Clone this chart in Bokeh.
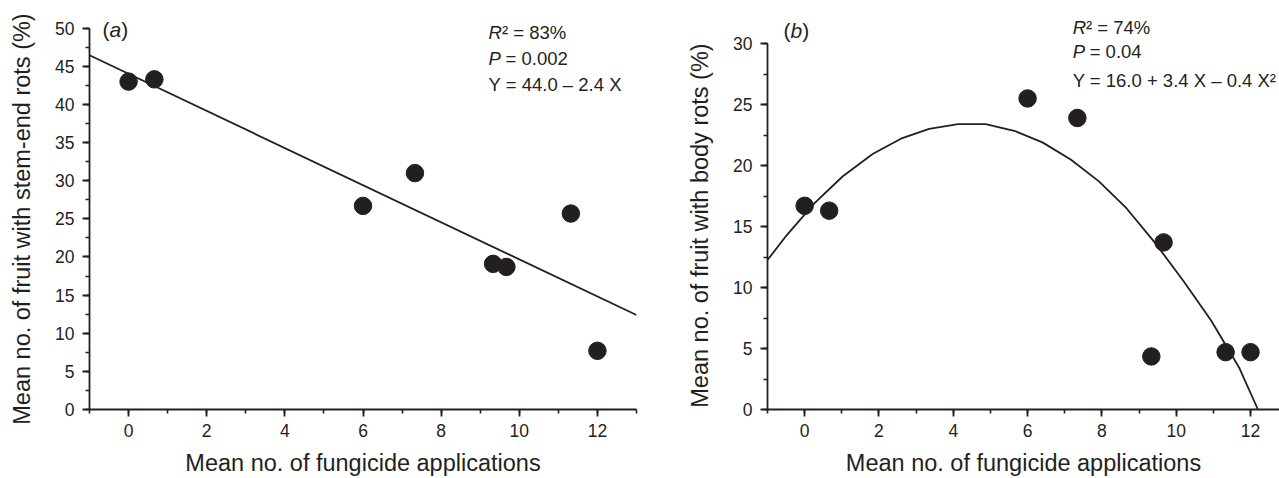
from bokeh.plotting import figure
from bokeh.layouts import row
from bokeh.models import Range1d, SingleIntervalTicker, Label
from bokeh.embed import file_html
from bokeh.resources import INLINE

FONT = "Liberation Sans"
INK = "#231f20"

# ---- panel (a): stem-end rots ----
a_x = [0.0, 0.66, 6.0, 7.33, 9.33, 9.67, 11.32, 12.0]
a_y = [43.0, 43.3, 26.7, 31.0, 19.1, 18.7, 25.7, 7.7]
a_fit_x = [-1.0, 13.0]
a_fit_y = [46.45, 12.4]
a_stats = ["\u00b2 = 83%", "= 0.002", "Y = 44.0 \u2013 2.4 X"]

# ---- panel (b): body rots ----
b_x = [0.0, 0.66, 6.0, 7.34, 9.33, 9.66, 11.33, 12.0]
b_y = [16.7, 16.3, 25.5, 23.9, 4.35, 13.7, 4.7, 4.7]
b_fit_x = [-1.0, -0.48, 0.26, 1.02, 1.83, 2.59, 3.35, 4.13, 4.87, 5.64,
           6.40, 7.16, 7.92, 8.66, 9.42, 10.18, 10.94, 11.70, 12.2]
b_fit_y = [12.25, 14.3, 16.9, 19.1, 20.95, 22.2, 23.0, 23.4, 23.4, 22.85,
           21.9, 20.5, 18.7, 16.5, 13.7, 10.6, 7.3, 3.4, 0.0]
b_stats = ["\u00b2 = 74%", "= 0.04", "Y = 16.0 + 3.4 X \u2013 0.4 X\u00b2"]

x_label = "Mean no. of fungicide applications"
a_ylabel = "Mean no. of fruit with stem-end rots (%)"
b_ylabel = "Mean no. of fruit with body rots (%)"

NB = "\u00a0"


def style(p, xlabel, ylabel, ytop):
    p.xaxis.ticker = SingleIntervalTicker(interval=2, num_minor_ticks=2)
    p.yaxis.ticker = SingleIntervalTicker(interval=5, num_minor_ticks=2)
    p.yaxis.bounds = (0, ytop)
    p.xaxis.axis_label = xlabel
    p.yaxis.axis_label = ylabel
    for ax in (p.xaxis, p.yaxis):
        ax.axis_line_color = INK
        ax.axis_line_width = 1.8
        ax.major_tick_line_color = INK
        ax.major_tick_line_width = 1.8
        ax.minor_tick_line_color = INK
        ax.minor_tick_line_width = 1.6
        ax.major_tick_in = 0
        ax.major_tick_out = 7
        ax.minor_tick_in = 0
        ax.minor_tick_out = 4
        ax.major_label_text_font = FONT
        ax.major_label_text_font_size = "17.5px"
        ax.major_label_text_color = INK
        ax.axis_label_text_font = FONT
        ax.axis_label_text_font_size = "23.5px"
        ax.axis_label_text_font_style = "normal"
        ax.axis_label_text_color = INK
    p.xaxis.major_label_standoff = 7
    p.xaxis.axis_label_standoff = 10
    p.yaxis.major_label_standoff = 8
    p.yaxis.axis_label_standoff = 17
    p.xgrid.visible = False
    p.ygrid.visible = False
    p.outline_line_color = None


def lab(p, x, y, text, size, italic=False, dx=0):
    p.add_layout(Label(x=x, y=y, text=text, x_offset=dx,
                       text_font=FONT, text_font_size=size,
                       text_font_style="italic" if italic else "normal",
                       text_color=INK, text_baseline="alphabetic",
                       text_align="left"))


sa = 18.5
sp = 21

# ---------- figure (a) ----------
pa = figure(width=640, height=478, x_range=Range1d(-1, 13), y_range=Range1d(0, 51.67),
            output_backend="svg", toolbar_location=None,
            min_border_left=89, min_border_right=4, min_border_top=15, min_border_bottom=69)
style(pa, x_label, a_ylabel + NB * 2, 50)
pa.line(a_fit_x, a_fit_y, line_color=INK, line_width=1.8)
pa.scatter(a_x, a_y, size=17.5, color=INK)

lab(pa, 9.215, 49.48, "R", f"{sa}px", italic=True)
lab(pa, 9.215, 49.48, a_stats[0], f"{sa}px", dx=0.722 * sa)
lab(pa, 9.215, 46.05, "P", f"{sa}px", italic=True)
lab(pa, 9.215, 46.05, a_stats[1], f"{sa}px", dx=(0.667 + 0.25) * sa)
lab(pa, 9.215, 42.65, a_stats[2], f"{sa}px")

lab(pa, -0.665, 49.87, "(", f"{sp}px")
lab(pa, -0.665, 49.87, "a", f"{sp}px", italic=True, dx=0.333 * sp)
lab(pa, -0.665, 49.87, ")", f"{sp}px", dx=0.889 * sp)

# ---------- figure (b) ----------
pb = figure(width=639, height=478, x_range=Range1d(-1, 12.78), y_range=Range1d(0, 32.30),
            output_backend="svg", toolbar_location=None,
            min_border_left=127, min_border_right=0, min_border_top=15, min_border_bottom=69)
style(pb, x_label, b_ylabel + NB * 4, 30)
pb.line(b_fit_x, b_fit_y, line_color=INK, line_width=1.8)
pb.scatter(b_x, b_y, size=17.5, color=INK)

lab(pb, 7.214, 31.35, "R", f"{sa}px", italic=True)
lab(pb, 7.214, 31.35, b_stats[0], f"{sa}px", dx=0.722 * sa)
lab(pb, 7.214, 29.32, "P", f"{sa}px", italic=True)
lab(pb, 7.214, 29.32, b_stats[1], f"{sa}px", dx=(0.667 + 0.25) * sa)
lab(pb, 7.214, 27.0, b_stats[2], f"{sa}px")

lab(pb, -0.57, 31.04, "(", f"{sp}px")
lab(pb, -0.57, 31.04, "b", f"{sp}px", italic=True, dx=0.333 * sp)
lab(pb, -0.57, 31.04, ")", f"{sp}px", dx=0.889 * sp)

layout = row(pa, pb)
open("out.html", "w").write(file_html(layout, INLINE))
